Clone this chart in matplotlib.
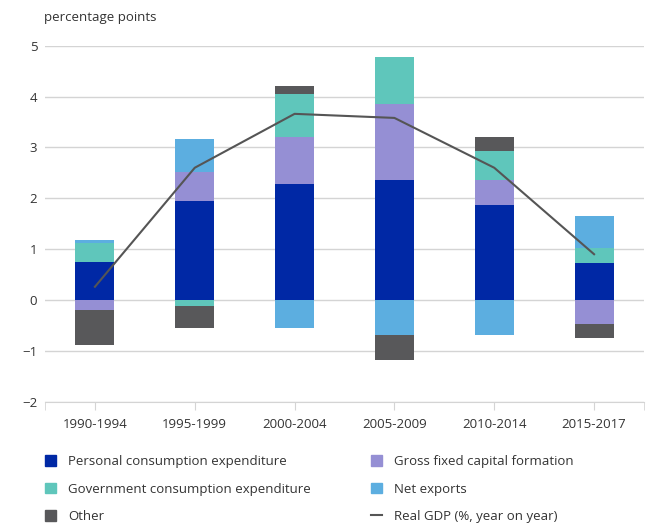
import numpy as np
import matplotlib.pyplot as plt
from matplotlib.patches import Patch
from matplotlib.lines import Line2D

plt.rcParams['font.family'] = ['Open Sans', 'DejaVu Sans']
plt.rcParams['text.color'] = '#333333'

# data (percentage points)
periods = ["1990-1994", "1995-1999", "2000-2004", "2005-2009", "2010-2014", "2015-2017"]
pce = [0.75, 1.94, 2.29, 2.36, 1.86, 0.73]
gfcf = [-0.19, 0.58, 0.92, 1.49, 0.50, -0.48]
gov = [0.37, -0.12, 0.85, 0.92, 0.57, 0.29]
net_exports = [0.05, 0.64, -0.55, -0.69, -0.68, 0.63]
other = [-0.70, -0.43, 0.14, -0.49, 0.28, -0.26]
real_gdp = [0.26, 2.60, 3.66, 3.58, 2.60, 0.90]

series = [
    ("Personal consumption expenditure", pce, "#0028a5"),
    ("Gross fixed capital formation", gfcf, "#958fd4"),
    ("Government consumption expenditure", gov, "#5fc6bb"),
    ("Net exports", net_exports, "#5caee0"),
    ("Other", other, "#58585a"),
]

fs = 9.5
fig = plt.figure(figsize=(6.47, 5.26), dpi=100)
ax = fig.add_axes([45/647, 1 - 401.7/526, 599/647, 356/526])

x = np.arange(len(periods))
pos_base = np.zeros(len(periods))
neg_base = np.zeros(len(periods))
for name, vals, col in series:
    v = np.array(vals)
    bottom = np.where(v >= 0, pos_base, neg_base)
    ax.bar(x, v, 0.39, bottom=bottom, color=col, zorder=2)
    pos_base += np.where(v >= 0, v, 0)
    neg_base += np.where(v < 0, v, 0)

ax.plot(x, real_gdp, color='#555555', lw=1.5, zorder=3)

ax.set_xlim(-0.5, 5.5)
ax.set_ylim(-2, 5)
ax.set_yticks(range(-2, 6))
ax.set_xticks(x)
ax.set_xticklabels(periods)
ax.set_xticks([-0.5, 5.5], minor=True)
ax.grid(axis='y', color='#d4d4d4', lw=1, zorder=0)
for s in ['top', 'right', 'left']:
    ax.spines[s].set_visible(False)
ax.spines['bottom'].set_color('#d4d4d4')
ax.tick_params(axis='y', length=0, pad=5.5, labelsize=fs, labelcolor='#333333')
ax.tick_params(axis='x', which='both', length=6, color='#d4d4d4', pad=5.5,
               labelsize=fs, labelcolor='#333333')

fig.text(44/647, 1 - 18/526, "percentage points", fontsize=fs, va='center')

# legend in two fixed columns
col1 = [Patch(color=series[0][2]), Patch(color=series[2][2]), Patch(color=series[4][2])]
lab1 = [series[0][0], series[2][0], series[4][0]]
col2 = [Patch(color=series[1][2]), Patch(color=series[3][2]),
        Line2D([], [], color='#555555', lw=1.5)]
lab2 = [series[1][0], series[3][0], "Real GDP (%, year on year)"]
kw = dict(frameon=False, fontsize=fs, handlelength=0.83, handleheight=0.83,
          handletextpad=0.9, labelspacing=1.1, borderaxespad=0, borderpad=0)
fig.legend(col1, lab1, loc='upper left', bbox_to_anchor=(45/647, 1 - 455/526), **kw)
fig.legend(col2, lab2, loc='upper left', bbox_to_anchor=(371/647, 1 - 455/526), **kw)

fig.savefig("out.png", dpi=100)
